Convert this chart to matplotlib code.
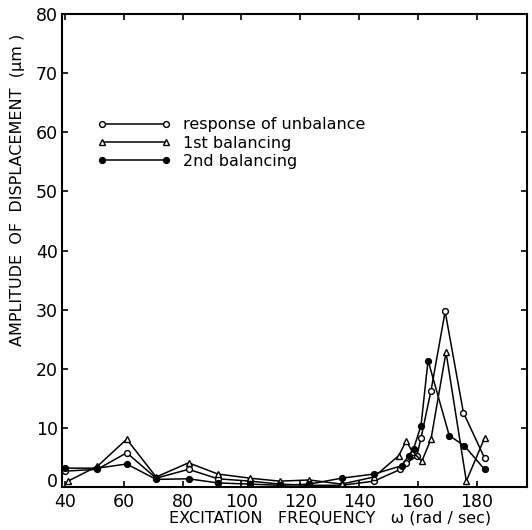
import matplotlib
matplotlib.use("Agg")
import matplotlib.pyplot as plt
import matplotlib.transforms as mtrans

# response of unbalance (open circles)
x_unb = [40, 51, 61, 71, 82, 92, 103, 113, 123, 134, 145, 154, 156, 159.6, 161, 164.4, 169.2, 175.4, 182.6]
y_unb = [2.7, 3.0, 5.8, 1.5, 3.0, 1.4, 1.0, 0.5, 0.3, 0.3, 1.0, 3.0, 4.0, 5.3, 8.3, 16.3, 29.7, 12.6, 4.9]

# 1st balancing (open triangles)
x_b1 = [41, 51, 61, 71, 82, 92, 103, 113, 123, 134, 145, 153.4, 156, 158, 161.3, 164.4, 169.5, 176.4, 182.6]
y_b1 = [1.0, 3.5, 8.1, 1.7, 4.1, 2.2, 1.5, 1.0, 1.2, 0.5, 1.7, 5.3, 7.8, 6.0, 4.4, 8.1, 22.8, 1.0, 8.3]

# 2nd balancing (filled circles)
x_b2 = [40, 51, 61, 71, 82, 92, 103, 113, 123, 134, 145, 154.4, 156.8, 158.5, 161, 163.4, 170.6, 175.7, 182.6]
y_b2 = [3.2, 3.2, 3.9, 1.3, 1.4, 0.7, 0.5, 0.3, 0.5, 1.5, 2.2, 3.6, 5.3, 6.5, 10.4, 21.4, 8.7, 7.0, 3.0]

labels = ["response of unbalance", "1st balancing", "2nd balancing"]
xticks = [40, 60, 80, 100, 120, 140, 160, 180]
yticks = [0, 10, 20, 30, 40, 50, 60, 70, 80]

fig = plt.figure(figsize=(5.32, 5.30), dpi=100)
ax = fig.add_axes([0.1165, 0.081, 0.874, 0.8926])

ax.plot(x_unb, y_unb, "-o", color="black", lw=1.1, ms=4.2, mfc="white", mec="black", mew=1.0, label=labels[0])
ax.plot(x_b1, y_b1, "-^", color="black", lw=1.1, ms=4.8, mfc="white", mec="black", mew=1.0, label=labels[1])
ax.plot(x_b2, y_b2, "-o", color="black", lw=1.1, ms=4.2, mfc="black", mec="black", label=labels[2])

ax.set_xlim(39, 197)
ax.set_ylim(0, 80)
ax.set_xticks(xticks)
ax.set_yticks(yticks)
ax.tick_params(direction="in", top=True, right=True, length=4, width=1.2,
               labelsize=12.5)
ax.tick_params(axis="x", pad=4)
ax.tick_params(axis="y", pad=3)
for s in ax.spines.values():
    s.set_linewidth(1.5)

# the "0" sits a bit higher than its tick, as in the original
lab0 = ax.get_yticklabels()[0]
lab0.set_transform(lab0.get_transform() + mtrans.ScaledTranslation(0, 5 / 72, fig.dpi_scale_trans))

ax.legend(loc="upper left", bbox_to_anchor=(0.062, 0.795), frameon=False,
          numpoints=2, handlelength=4.6, fontsize=11.5, labelspacing=0.2,
          handletextpad=0.8, borderaxespad=0)

fig.text(18 / 532, 1 - 190 / 530, "AMPLITUDE  OF  DISPLACEMENT  (\u03bcm )",
         rotation=90, ha="center", va="center", fontsize=11.5)
fig.text(330 / 532, 1 - 518 / 530, "EXCITATION   FREQUENCY   \u03c9 (rad / sec)",
         ha="center", va="center", fontsize=11.5)

fig.savefig("out.png", dpi=100)
